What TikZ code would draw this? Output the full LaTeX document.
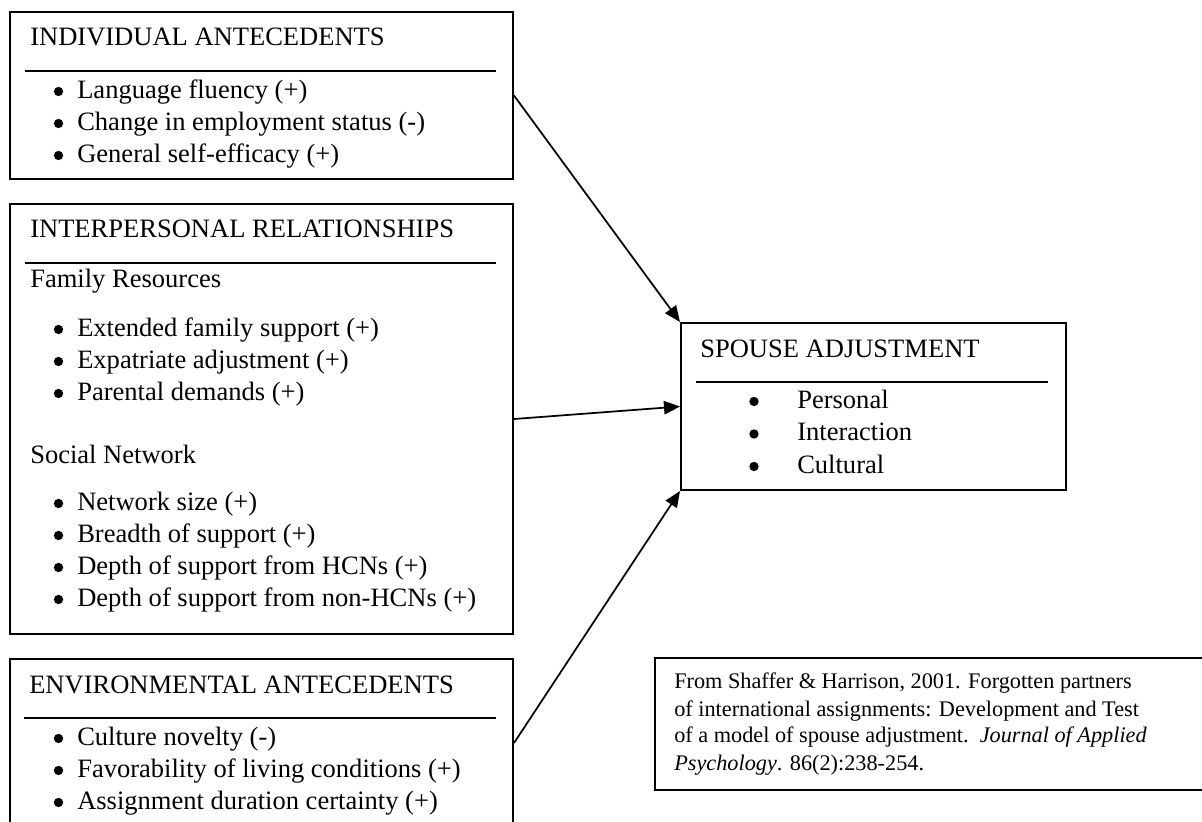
\documentclass[tikz,border=0pt]{standalone}
\usepackage{fontspec}
\setmainfont{Liberation Serif}
\usepackage{tikz}
\usetikzlibrary{arrows.meta, positioning}

\begin{document}
\begin{tikzpicture}[x=0.75pt, y=-0.75pt,
        box/.style={draw, line width=1.5pt, rectangle, anchor=north west, inner sep=0pt},
        txt/.style={anchor=base west, inner sep=0pt, font=\fontsize{19.9}{24}\selectfont},
        dot/.style={circle, fill, inner sep=0pt, minimum size=7pt, yshift=4.9pt},
        small/.style={anchor=base west, inner sep=0pt, font=\fontsize{16.7}{20}\selectfont},
        rule/.style={line width=1.5pt},
        link/.style={line width=1.3pt, -{Triangle[length=12pt, width=10pt]}}]
    \useasboundingbox (0,0) rectangle (1202,821);

    % the four boxes and the note
    \node[box, minimum width=377.25pt, minimum height=125.25pt] (ind) at (9,11) {};
    \node[box, minimum width=377.25pt, minimum height=322.5pt] (inter) at (9,203) {};
    \node[box, minimum width=377.25pt, minimum height=126pt] (env) at (9,658) {};
    \node[box, minimum width=288.75pt, minimum height=125.25pt] (spouse) at (680,322) {};
    \node[box, minimum width=417pt, minimum height=99pt] (note) at (654,657) {};

    % individual antecedents
    \node[txt] (ind-t) at (30,45) {INDIVIDUAL ANTECEDENTS};
    \draw[rule] (25,71) -- (496,71);
    \foreach \y/\s [count=\i] in {98/Language fluency (+), 130/Change in employment status (-), 162/General self-efficacy (+)} {
        \node[dot] (ind-b\i) at (58.5,\y) {};
        \node[txt] (ind-i\i) at (77,\y) {\s};
    }

    % interpersonal relationships
    \node[txt] (inter-t) at (30,237) {INTERPERSONAL RELATIONSHIPS};
    \draw[rule] (25,263) -- (496,263);
    \node[txt] (fam) at (30,287) {Family Resources};
    \foreach \y/\s [count=\i] in {336/Extended family support (+), 368/Expatriate adjustment (+), 400/Parental demands (+)} {
        \node[dot] (fam-b\i) at (58.5,\y) {};
        \node[txt] (fam-i\i) at (77,\y) {\s};
    }
    \node[txt] (soc) at (30,463) {Social Network};
    \foreach \y/\s [count=\i] in {510/Network size (+), 542/Breadth of support (+), 574/Depth of support from HCNs (+), 606/Depth of support from non-HCNs (+)} {
        \node[dot] (soc-b\i) at (58.5,\y) {};
        \node[txt] (soc-i\i) at (77,\y) {\s};
    }

    % environmental antecedents
    \node[txt] (env-t) at (29,693) {ENVIRONMENTAL ANTECEDENTS};
    \draw[rule] (24,718) -- (496,718);
    \foreach \y/\s [count=\i] in {745/Culture novelty (-), 777/Favorability of living conditions (+), 809/Assignment duration certainty (+)} {
        \node[dot] (env-b\i) at (58.5,\y) {};
        \node[txt] (env-i\i) at (77,\y) {\s};
    }

    % spouse adjustment
    \node[txt] (spouse-t) at (700,357) {SPOUSE ADJUSTMENT};
    \draw[rule] (696,382) -- (1048,382);
    \foreach \y/\s [count=\i] in {408/Personal, 440.5/Interaction, 473/Cultural} {
        \node[dot] (sp-b\i) at (754,\y) {};
        \node[txt] (sp-i\i) at (797,\y) {\s};
    }

    % source
    \node[small] (note1) at (674,688) {From Shaffer \& Harrison, 2001. Forgotten partners};
    \node[small] (note2) at (674,716) {of international assignments: Development and Test};
    \node[small] (note3) at (674,742) {of a model of spouse adjustment.\ \ \textit{Journal of Applied}};
    \node[small] (note4) at (674,770) {\textit{Psychology}. 86(2):238-254.};

    \draw[link] (ind.east) -- (spouse.north west);
    \draw[link] (inter.east) -- (spouse.west);
    \draw[link] (env.east) -- (spouse.south west);
\end{tikzpicture}
\end{document}
